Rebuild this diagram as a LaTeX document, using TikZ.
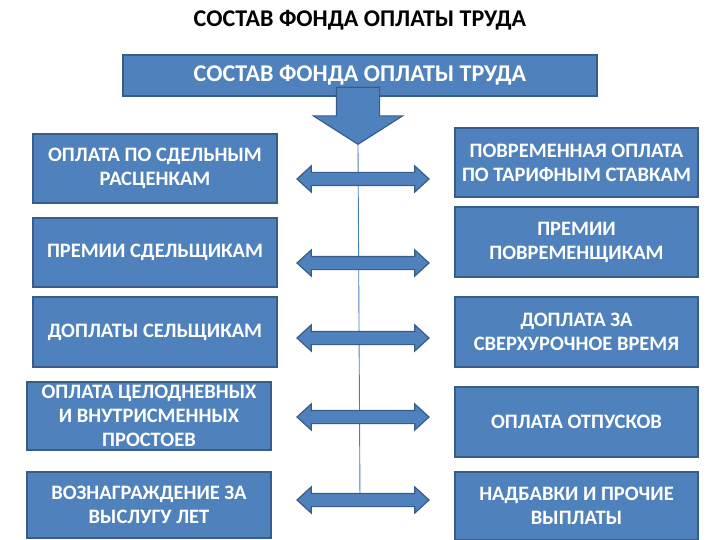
\documentclass[tikz,border=0pt]{standalone}
\usepackage{fontspec}
\setmainfont{Carlito}
\usetikzlibrary{shapes.arrows}
\definecolor{boxblue}{HTML}{4F81BD}
\definecolor{boxedge}{HTML}{385D8A}
\definecolor{linkline}{HTML}{4A7EBB}
\begin{document}
\begin{tikzpicture}[x=1pt,y=-1pt,
  box/.style={rectangle,draw=boxedge,line width=1.6pt,fill=boxblue,text=white,
    font=\bfseries\fontsize{20.5}{24}\selectfont,align=center,inner sep=0pt,
    minimum width=244pt,minimum height=69pt},
  dblarrow/.style={double arrow,draw=boxedge,line width=1.2pt,fill=boxblue,
    inner xsep=0pt,inner ysep=6pt,
    minimum height=132pt,minimum width=25pt,double arrow head extend=6.5pt,
    double arrow tip angle=85}]
  \useasboundingbox (0,0) rectangle (720,540);

  \node (title) at (360,20) [font=\bfseries\fontsize{24}{28}\selectfont] {СОСТАВ ФОНДА ОПЛАТЫ ТРУДА};
  \node (fund) at (360,75.5) [box,font=\bfseries\fontsize{24}{28}\selectfont,
    minimum width=474pt,minimum height=41pt] {СОСТАВ ФОНДА ОПЛАТЫ ТРУДА};

  \node (down) at (358,145) [single arrow,shape border rotate=270,anchor=tip,draw=boxedge,line width=1.2pt,
    fill=boxblue,inner sep=0pt,minimum height=57pt,minimum width=88pt,
    single arrow head extend=23pt,single arrow tip angle=115] {\rule{42pt}{0pt}};
  \coordinate (bottom) at (360,500);
  \draw[linkline,line width=0.9pt] (down.tip) -- (bottom);

  % left column
  \node (piece) at (155,168.5) [box] {ОПЛАТА ПО СДЕЛЬНЫМ\\РАСЦЕНКАМ};
  \node (piecebonus) at (155,252.5) [box] {ПРЕМИИ СДЕЛЬЩИКАМ};
  \node (pieceextra) at (155,332) [box,minimum height=70pt] {ДОПЛАТЫ СЕЛЬЩИКАМ};
  \node (idle) at (149,416) [box,minimum height=68pt] {ОПЛАТА ЦЕЛОДНЕВНЫХ\\И ВНУТРИСМЕННЫХ\\ПРОСТОЕВ};
  \node (seniority) at (149,505) [box,minimum height=66pt] {ВОЗНАГРАЖДЕНИЕ ЗА\\ВЫСЛУГУ ЛЕТ};

  % right column
  \node (time) at (576.5,162.5) [box,minimum width=243pt] {ПОВРЕМЕННАЯ ОПЛАТА\\ПО ТАРИФНЫМ СТАВКАМ};
  \node (timebonus) at (576.5,242) [box,minimum width=243pt,minimum height=70pt] {ПРЕМИИ\\ПОВРЕМЕНЩИКАМ};
  \node (overtime) at (576.5,332) [box,minimum width=243pt,minimum height=70pt] {ДОПЛАТА ЗА\\СВЕРХУРОЧНОЕ ВРЕМЯ};
  \node (leave) at (576.5,422) [box,minimum width=243pt,minimum height=70pt] {ОПЛАТА ОТПУСКОВ};
  \node (extras) at (576.5,506) [box,minimum width=243pt,minimum height=68pt] {НАДБАВКИ И ПРОЧИЕ\\ВЫПЛАТЫ};

  % double arrows across the line
  \node (link1) at (363,179) [dblarrow] {};
  \node (link2) at (363,263) [dblarrow] {};
  \node (link3) at (363,338) [dblarrow] {};
  \node (link4) at (363,417) [dblarrow] {};
  \node (link5) at (363,500) [dblarrow] {};
\end{tikzpicture}
\end{document}
